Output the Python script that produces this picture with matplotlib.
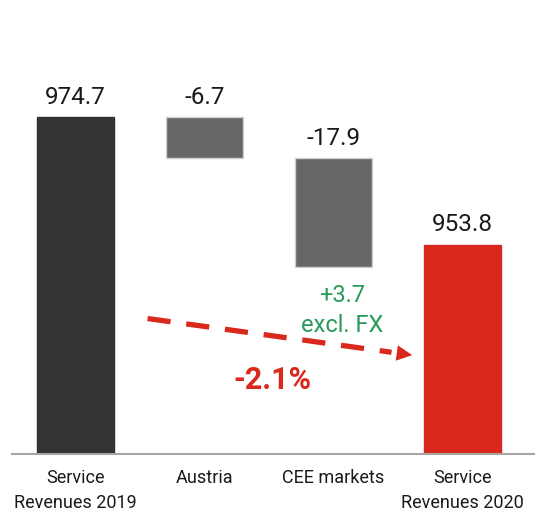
import numpy as np
import matplotlib.pyplot as plt

plt.rcParams['font.family'] = ['Roboto', 'DejaVu Sans']

# 数据
categories = ['Service\nRevenues 2019', 'Austria', 'CEE markets', 'Service\nRevenues 2020']
start_total = 974.7
changes = [-6.7, -17.9]
end_total = 953.8
labels = ['974.7', '-6.7', '-17.9', '953.8']
fx_note = '+3.7\nexcl. FX'
growth = '-2.1%'

c_dark = '#333333'
c_grey = '#676767'
c_red = '#d9291c'
c_green = '#2a9a5a'

base = 919.5
fig = plt.figure(figsize=(5.35, 5.11), dpi=100)
ax = fig.add_axes([12 / 535, 57 / 511, 528 / 535, 454 / 511])

x = np.arange(len(categories))
w = 0.6
# 起点、变化、终点
bottoms = [base]
heights = [start_total - base]
level = start_total
for c in changes:
    bottoms.append(level + c)
    heights.append(-c)
    level = level + c
bottoms.append(base)
heights.append(end_total - base)
colors = [c_dark, c_grey, c_grey, c_red]
edges = [c_dark, '#d0d0d0', '#d0d0d0', c_red]

ax.bar(x, heights, w, bottom=bottoms, color=colors, edgecolor=edges, linewidth=1)

tops = [b + h for b, h in zip(bottoms, heights)]
for xi, t, lab in zip(x, tops, labels):
    ax.annotate(lab, (xi, t), xytext=(0, 9.7), textcoords='offset points',
                ha='center', va='baseline', fontsize=17.5, color='#1a1a1a')

ax.text(2.07, 943.0, fx_note, ha='center', va='center', fontsize=17,
        color=c_green, linespacing=1.35)

# 虚线箭头
p0 = (0.56, 941.7)
p1 = (2.61, 935.7)
xm = 2.45
ym = p0[1] + (p1[1] - p0[1]) * (xm - p0[0]) / (p1[0] - p0[0])
ax.plot([p0[0], xm], [p0[1], ym], color=c_red, lw=3.8, dashes=(4.4, 3),
        solid_capstyle='butt', dash_capstyle='butt')
ax.annotate('', xy=p1, xytext=(xm, ym),
            arrowprops=dict(arrowstyle='-|>', color=c_red, lw=0, mutation_scale=28,
                            shrinkA=0, shrinkB=0))
ax.text(1.53, 931.6, growth, ha='center', va='center', fontsize=22,
        fontweight='bold', color=c_red)

ax.set_xlim(-0.49, 3.6)
ax.set_ylim(base, 993.9)
ax.set_xticks(x)
ax.set_xticklabels(categories, fontsize=13, color='#1a1a1a', linespacing=1.5)
ax.tick_params(axis='x', length=0, pad=11)
ax.set_yticks([])
for s in ['top', 'right', 'left']:
    ax.spines[s].set_visible(False)
ax.spines['bottom'].set_color('#a6a6a6')
ax.spines['bottom'].set_linewidth(1.5)

fig.savefig('out.png', dpi=100)
